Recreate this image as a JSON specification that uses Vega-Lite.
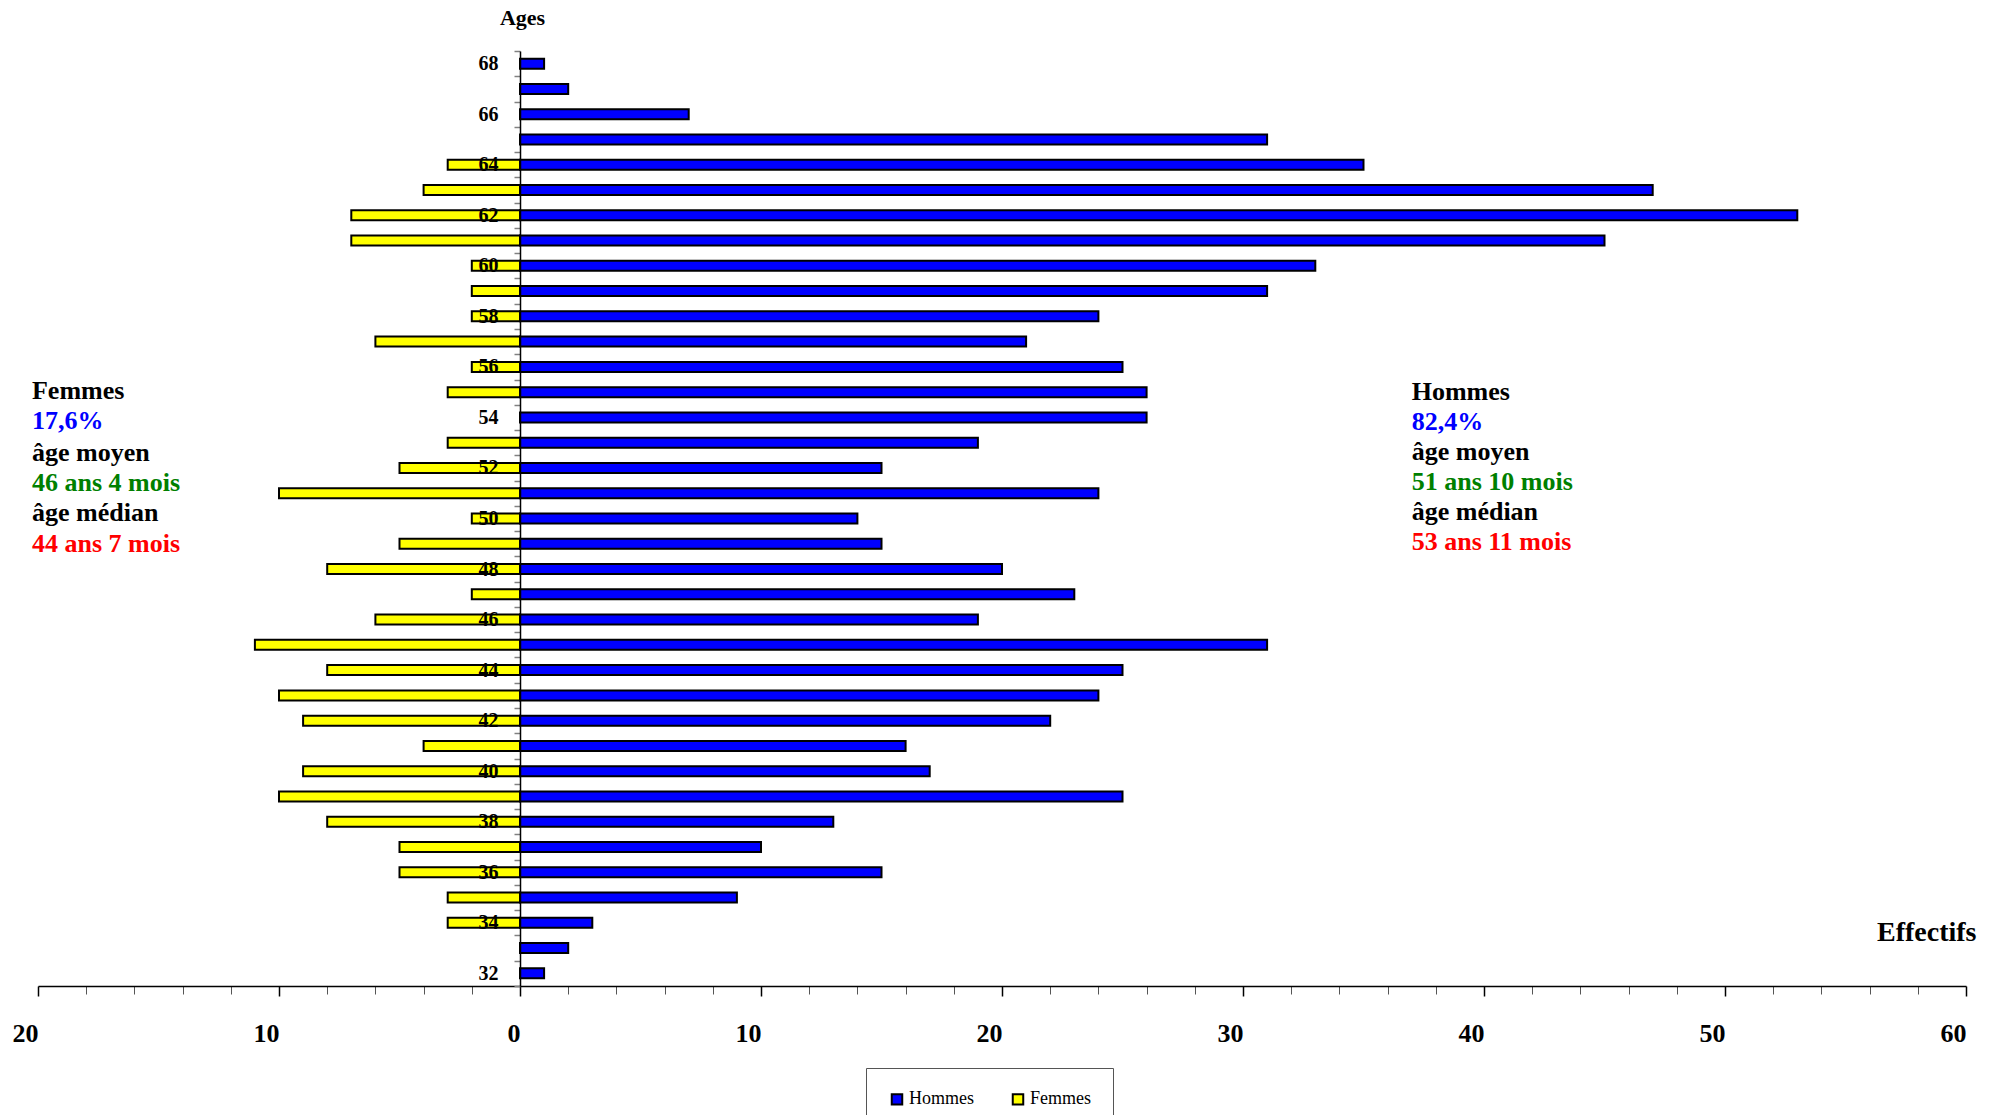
{
  "$schema": "https://vega.github.io/schema/vega-lite/v6.json",
  "autosize": {"type": "none"},
  "width": 1928,
  "height": 935,
  "padding": {"left": 38, "top": 51, "right": 38, "bottom": 129},
  "background": "white",
  "config": {
    "view": {"stroke": null},
    "font": "Liberation Serif"
  },
  "layer": [
    {
      "data": {
        "values": [
          {"age": 68, "sexe": "Hommes", "effectif": 1},
          {"age": 67, "sexe": "Hommes", "effectif": 2},
          {"age": 66, "sexe": "Hommes", "effectif": 7},
          {"age": 65, "sexe": "Hommes", "effectif": 31},
          {"age": 64, "sexe": "Hommes", "effectif": 35},
          {"age": 63, "sexe": "Hommes", "effectif": 47},
          {"age": 62, "sexe": "Hommes", "effectif": 53},
          {"age": 61, "sexe": "Hommes", "effectif": 45},
          {"age": 60, "sexe": "Hommes", "effectif": 33},
          {"age": 59, "sexe": "Hommes", "effectif": 31},
          {"age": 58, "sexe": "Hommes", "effectif": 24},
          {"age": 57, "sexe": "Hommes", "effectif": 21},
          {"age": 56, "sexe": "Hommes", "effectif": 25},
          {"age": 55, "sexe": "Hommes", "effectif": 26},
          {"age": 54, "sexe": "Hommes", "effectif": 26},
          {"age": 53, "sexe": "Hommes", "effectif": 19},
          {"age": 52, "sexe": "Hommes", "effectif": 15},
          {"age": 51, "sexe": "Hommes", "effectif": 24},
          {"age": 50, "sexe": "Hommes", "effectif": 14},
          {"age": 49, "sexe": "Hommes", "effectif": 15},
          {"age": 48, "sexe": "Hommes", "effectif": 20},
          {"age": 47, "sexe": "Hommes", "effectif": 23},
          {"age": 46, "sexe": "Hommes", "effectif": 19},
          {"age": 45, "sexe": "Hommes", "effectif": 31},
          {"age": 44, "sexe": "Hommes", "effectif": 25},
          {"age": 43, "sexe": "Hommes", "effectif": 24},
          {"age": 42, "sexe": "Hommes", "effectif": 22},
          {"age": 41, "sexe": "Hommes", "effectif": 16},
          {"age": 40, "sexe": "Hommes", "effectif": 17},
          {"age": 39, "sexe": "Hommes", "effectif": 25},
          {"age": 38, "sexe": "Hommes", "effectif": 13},
          {"age": 37, "sexe": "Hommes", "effectif": 10},
          {"age": 36, "sexe": "Hommes", "effectif": 15},
          {"age": 35, "sexe": "Hommes", "effectif": 9},
          {"age": 34, "sexe": "Hommes", "effectif": 3},
          {"age": 33, "sexe": "Hommes", "effectif": 2},
          {"age": 32, "sexe": "Hommes", "effectif": 1},
          {"age": 64, "sexe": "Femmes", "effectif": -3},
          {"age": 63, "sexe": "Femmes", "effectif": -4},
          {"age": 62, "sexe": "Femmes", "effectif": -7},
          {"age": 61, "sexe": "Femmes", "effectif": -7},
          {"age": 60, "sexe": "Femmes", "effectif": -2},
          {"age": 59, "sexe": "Femmes", "effectif": -2},
          {"age": 58, "sexe": "Femmes", "effectif": -2},
          {"age": 57, "sexe": "Femmes", "effectif": -6},
          {"age": 56, "sexe": "Femmes", "effectif": -2},
          {"age": 55, "sexe": "Femmes", "effectif": -3},
          {"age": 53, "sexe": "Femmes", "effectif": -3},
          {"age": 52, "sexe": "Femmes", "effectif": -5},
          {"age": 51, "sexe": "Femmes", "effectif": -10},
          {"age": 50, "sexe": "Femmes", "effectif": -2},
          {"age": 49, "sexe": "Femmes", "effectif": -5},
          {"age": 48, "sexe": "Femmes", "effectif": -8},
          {"age": 47, "sexe": "Femmes", "effectif": -2},
          {"age": 46, "sexe": "Femmes", "effectif": -6},
          {"age": 45, "sexe": "Femmes", "effectif": -11},
          {"age": 44, "sexe": "Femmes", "effectif": -8},
          {"age": 43, "sexe": "Femmes", "effectif": -10},
          {"age": 42, "sexe": "Femmes", "effectif": -9},
          {"age": 41, "sexe": "Femmes", "effectif": -4},
          {"age": 40, "sexe": "Femmes", "effectif": -9},
          {"age": 39, "sexe": "Femmes", "effectif": -10},
          {"age": 38, "sexe": "Femmes", "effectif": -8},
          {"age": 37, "sexe": "Femmes", "effectif": -5},
          {"age": 36, "sexe": "Femmes", "effectif": -5},
          {"age": 35, "sexe": "Femmes", "effectif": -3},
          {"age": 34, "sexe": "Femmes", "effectif": -3}
        ]
      },
      "mark": {"type": "bar", "size": 10, "stroke": "black", "strokeWidth": 2, "clip": false},
      "encoding": {
        "y": {
          "field": "age",
          "type": "ordinal",
          "sort": "descending",
          "scale": {"paddingInner": 0, "paddingOuter": 0},
          "axis": {
            "title": "Ages",
            "titleAngle": 0,
            "titleX": 2,
            "titleY": -34,
            "titleAlign": "center",
            "titleBaseline": "middle",
            "titleFont": "Liberation Serif",
            "titleFontSize": 22,
            "titleFontWeight": "bold",
            "titleColor": "black",
            "offset": -482,
            "zindex": 1,
            "domainColor": "black",
            "domainWidth": 1.5,
            "tickBand": "extent",
            "tickSize": 6,
            "tickColor": "#808080",
            "tickWidth": 1.5,
            "labelExpr": "datum.value % 2 === 0 ? datum.label : ''",
            "labelFont": "Liberation Serif",
            "labelFontSize": 20,
            "labelFontWeight": "bold",
            "labelColor": "black",
            "labelPadding": 16,
            "labelOverlap": false
          }
        },
        "x": {
          "field": "effectif",
          "type": "quantitative",
          "scale": {"domain": [-20, 60], "nice": false, "zero": false},
          "axis": {
            "values": [-20, -18, -16, -14, -12, -10, -8, -6, -4, -2, 0, 2, 4, 6, 8, 10, 12, 14, 16, 18, 20, 22, 24, 26, 28, 30, 32, 34, 36, 38, 40, 42, 44, 46, 48, 50, 52, 54, 56, 58, 60],
            "labelExpr": "datum.value % 10 === 0 ? format(abs(datum.value), 'd') : ''",
            "labelOverlap": false,
            "labelFlush": false,
            "labelAlign": "right",
            "labelOffset": 0,
            "labelFont": "Liberation Serif",
            "labelFontSize": 26,
            "labelFontWeight": "bold",
            "labelColor": "black",
            "labelPadding": 24,
            "grid": false,
            "domainColor": "black",
            "domainWidth": 1.5,
            "tickColor": {"condition": {"test": "datum.value % 10 === 0", "value": "black"}, "value": "#555555"},
            "tickWidth": {"condition": {"test": "datum.value % 10 === 0", "value": 1.5}, "value": 1},
            "tickSize": {"condition": {"test": "datum.value % 10 === 0", "value": 10}, "value": 8},
            "title": "Effectifs",
            "titleX": 1938,
            "titleY": -54,
            "titleAlign": "right",
            "titleBaseline": "middle",
            "titleFont": "Liberation Serif",
            "titleFontSize": 28,
            "titleFontWeight": "bold",
            "titleColor": "black"
          }
        },
        "color": {
          "field": "sexe",
          "type": "nominal",
          "scale": {"domain": ["Hommes", "Femmes"], "range": ["#0000FF", "#FFFF00"]},
          "legend": {
            "orient": "none",
            "legendX": 828,
            "legendY": 1017,
            "direction": "horizontal",
            "title": null,
            "strokeColor": "#555555",
            "fillColor": "white",
            "padding": 22,
            "labelFont": "Liberation Serif",
            "labelFontSize": 18,
            "labelColor": "black",
            "labelOffset": 3,
            "symbolType": "square",
            "symbolSize": 110,
            "symbolStrokeColor": "black",
            "symbolStrokeWidth": 2,
            "columnPadding": 34
          }
        }
      }
    },
    {
      "data": {
        "values": [
          {"x": -20.25, "position": 55.05, "texte": "Femmes", "type": "titre"},
          {"x": -20.25, "position": 53.85, "texte": "17,6%", "type": "part"},
          {"x": -20.25, "position": 52.6, "texte": "âge moyen", "type": "titre"},
          {"x": -20.25, "position": 51.4, "texte": "46 ans 4 mois", "type": "moyenne"},
          {"x": -20.25, "position": 50.2, "texte": "âge médian", "type": "titre"},
          {"x": -20.25, "position": 49.0, "texte": "44 ans 7 mois", "type": "mediane"},
          {"x": 37, "position": 55.0, "texte": "Hommes", "type": "titre"},
          {"x": 37, "position": 53.83, "texte": "82,4%", "type": "part"},
          {"x": 37, "position": 52.65, "texte": "âge moyen", "type": "titre"},
          {"x": 37, "position": 51.45, "texte": "51 ans 10 mois", "type": "moyenne"},
          {"x": 37, "position": 50.27, "texte": "âge médian", "type": "titre"},
          {"x": 37, "position": 49.08, "texte": "53 ans 11 mois", "type": "mediane"}
        ]
      },
      "mark": {"type": "text", "align": "left", "baseline": "middle", "font": "Liberation Serif", "fontSize": 26, "fontWeight": "bold", "clip": false},
      "encoding": {
        "x": {"field": "x", "type": "quantitative"},
        "y": {"field": "position", "type": "quantitative", "scale": {"domain": [31.5, 68.5], "nice": false, "zero": false}, "axis": null},
        "text": {"field": "texte"},
        "color": {
          "field": "type",
          "type": "nominal",
          "scale": {"domain": ["titre", "part", "moyenne", "mediane"], "range": ["#000000", "#0000FF", "#008000", "#FF0000"]},
          "legend": null
        }
      }
    }
  ],
  "resolve": {"scale": {"y": "independent", "color": "independent"}}
}
